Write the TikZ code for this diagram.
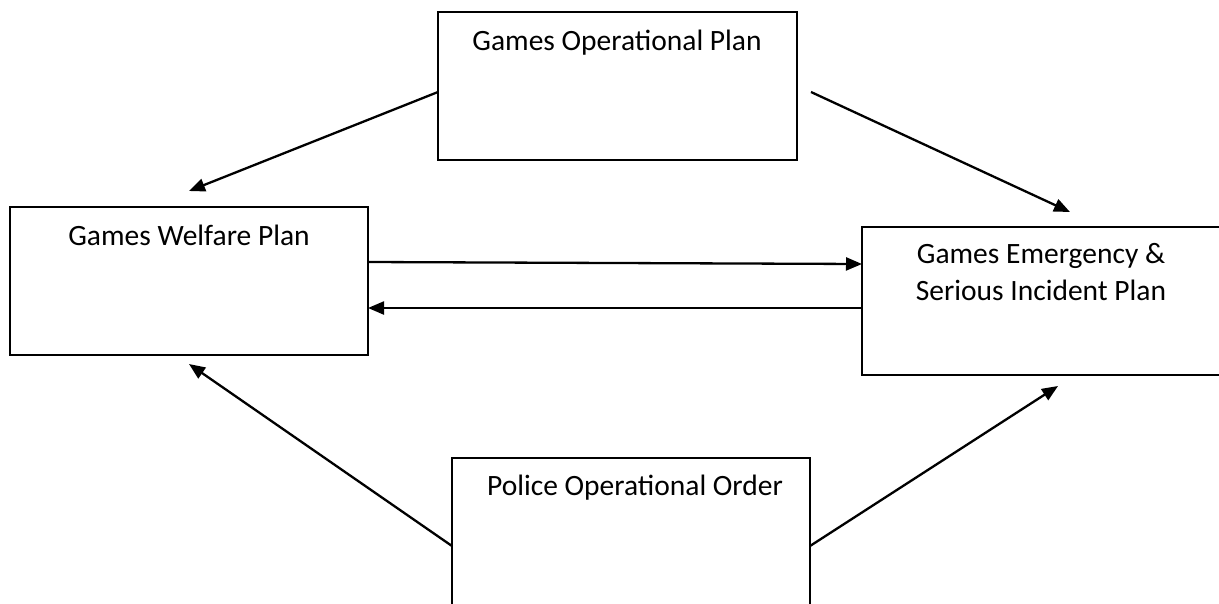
\documentclass[tikz,border=0pt]{standalone}
\usepackage{fontspec}
\setmainfont{Carlito}
\usetikzlibrary{arrows.meta}
\begin{document}
\begin{tikzpicture}[x=1pt,y=-1pt,
  box/.style={draw=black,line width=2.3pt,rectangle,anchor=north west,inner sep=0pt,outer sep=0pt},
  lbl/.style={anchor=base,inner sep=0pt,font=\fontsize{29.5}{35}\selectfont},
  conn/.style={draw=black,line width=2.3pt,-{Triangle[length=16pt,width=13pt]}}]
\useasboundingbox (0,0) rectangle (1219,603);
\fill[white] (0,0) rectangle (1219,603);
% boxes
\node[box,minimum width=359pt,minimum height=148pt] (op) at (438,12) {};
\node[box,minimum width=358pt,minimum height=148pt] (wel) at (10,207) {};
\node[box,minimum width=372pt,minimum height=148pt] (emg) at (862,227) {};
\node[box,minimum width=358pt,minimum height=170pt] (pol) at (452,458) {};
% texts
\node[lbl] (optxt) at (617,50) {Games Operational Plan};
\node[lbl] (weltxt) at (189,245) {Games Welfare Plan};
\node[lbl] (emgtxtA) at (1041,263) {Games Emergency \&};
\node[lbl] (emgtxtB) at (1041,300) {Serious Incident Plan};
\node[lbl] (poltxt) at (635,495) {Police Operational Order};
% free ends
\coordinate (opR) at (811,92);
\coordinate (tipWelTop) at (189,191);
\coordinate (tipEmgTop) at (1070,212);
\coordinate (tipWelBot) at (189,364);
\coordinate (tipEmgBot) at (1058,386);
% connectors
\draw[conn] ([yshift=-6pt]op.west) -- (tipWelTop);
\draw[conn] (opR) -- (tipEmgTop);
\draw[conn] ([yshift=19pt]wel.east) -- ([yshift=37pt]emg.west);
\draw[conn] ([yshift=-7pt]emg.west) -- ([yshift=-27pt]wel.east);
\draw[conn] ([yshift=-3pt]pol.west) -- (tipWelBot);
\draw[conn] ([yshift=-3pt]pol.east) -- (tipEmgBot);
\end{tikzpicture}
\end{document}
